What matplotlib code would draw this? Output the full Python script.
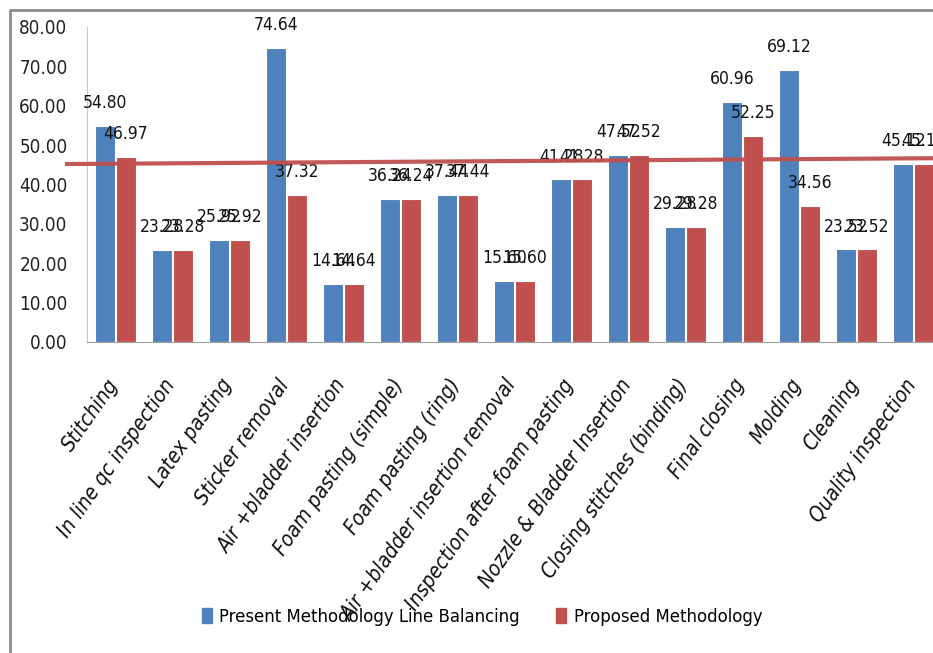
import numpy as np
import matplotlib.pyplot as plt
from matplotlib import font_manager as fm
from matplotlib.lines import Line2D
from matplotlib.patches import Patch

# narrow face if there is one, else Arial-metric Liberation Sans
cond = [f for f in fm.fontManager.ttflist
        if f.name == 'DejaVu Sans' and f.stretch not in ('normal', 500)]
if cond:
    plt.rcParams['font.family'] = ['DejaVu Sans']
    plt.rcParams['font.stretch'] = 'condensed'
    scale = 1.0
else:
    plt.rcParams['font.family'] = ['Liberation Sans', 'DejaVu Sans']
    scale = 0.9

operations = ['Stitching', 'In line qc inspection', 'Latex pasting', 'Sticker removal',
              'Air +bladder insertion', 'Foam pasting (simple)', 'Foam pasting (ring)',
              'Air +bladder insertion removal', 'Inspection after foam pasting',
              'Nozzle & Bladder Insertion', 'Closing stitches (binding)', 'Final closing',
              'Molding', 'Cleaning', 'Quality inspection']
present = [54.80, 23.28, 25.92, 74.64, 14.64, 36.24, 37.44, 15.60, 41.28, 47.52,
           29.28, 60.96, 69.12, 23.52, 45.12]
proposed = [46.97, 23.28, 25.92, 37.32, 14.64, 36.24, 37.44, 15.60, 41.28, 47.52,
            29.28, 52.25, 34.56, 23.52, 45.12]
takt_x = [-0.85, 14.6]
takt_y = [45.2, 46.7]

blue, red = '#4F81BD', '#C0504D'
W, H = 933, 653

fig = plt.figure(figsize=(W / 100, H / 100), dpi=100)
ax = fig.add_axes([87 / W, 1 - 342 / H, 855 / W, 315 / H])

x = np.arange(len(operations))
w = 0.35
b1 = ax.bar(x - 0.18, present, w, color=blue, edgecolor='white', linewidth=0.8)
b2 = ax.bar(x + 0.18, proposed, w, color=red, edgecolor='white', linewidth=0.8)

for bars, vals in ((b1, present), (b2, proposed)):
    for r, v in zip(bars, vals):
        ax.annotate(f'{v:.2f}', (r.get_x() + r.get_width() / 2, v),
                    xytext=(0, 10), textcoords='offset points',
                    ha='center', va='bottom', fontsize=12.5 * scale, color='#111111')

# takt time line drawn across the whole plot
ax.plot(takt_x, takt_y, color=red, lw=3, alpha=0.95, clip_on=False, zorder=5)

ax.set_xlim(-0.5, len(operations) - 0.5)
ax.set_ylim(0, 80)
ax.set_yticks(np.arange(0, 81, 10))
ax.set_yticklabels([f'{v:.2f}' for v in np.arange(0, 81, 10)],
                   fontsize=13.5 * scale, color='#222222')
ax.set_xticks(x)
ax.set_xticklabels([])
# slanted category names under the axis
for xi, name in zip(x, operations):
    ax.annotate(name, (xi, 0), xycoords=('data', 'axes fraction'),
                xytext=(-7, -24), textcoords='offset points',
                rotation=55, ha='right', va='top', rotation_mode='anchor',
                fontsize=15 * scale, style='italic', color='#111111',
                annotation_clip=False)
ax.tick_params(axis='y', length=0, pad=14)
ax.tick_params(axis='x', length=0)

for s in ('top', 'right'):
    ax.spines[s].set_visible(False)
ax.spines['left'].set_color('#c8c8c8')
ax.spines['bottom'].set_color('#a0a0a0')

fig.legend([Patch(color=blue), Patch(color=red)],
           ['Present Methodology Line Balancing', 'Proposed Methodology'],
           loc='center', bbox_to_anchor=(482 / W, 1 - 617 / H), ncol=2, frameon=False,
           fontsize=13.2 * scale, handlelength=0.55, handleheight=0.9, handletextpad=0.4,
           columnspacing=2.0)

# outer chart border
fig.add_artist(Line2D([10 / W, 10 / W, 1], [0, 1 - 10 / H, 1 - 10 / H],
                      color='#8c8c8c', lw=2, transform=fig.transFigure))

fig.savefig('out.png', dpi=100)
